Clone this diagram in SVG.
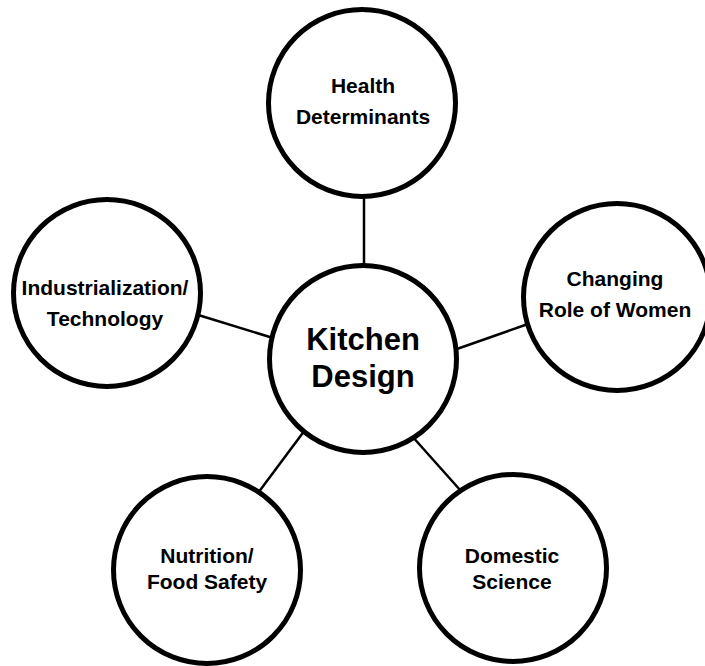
<svg xmlns="http://www.w3.org/2000/svg" width="705" height="666" viewBox="0 0 705 666">
  <style>
    .node circle { fill: #ffffff; stroke: #000000; stroke-width: 5; }
    .link { stroke: #000000; stroke-width: 2.5; fill: none; }
    text { font-family: "Liberation Sans", Arial, sans-serif; font-weight: bold; fill: #000000; text-anchor: middle; }
    .label { font-size: 21px; }
    .hub { font-size: 31px; }
  </style>
  <rect width="705" height="666" fill="#ffffff"/>

  <!-- spokes from the hub to each topic -->
  <g id="connectors">
    <line class="link" x1="364" y1="196" x2="364" y2="267"/>
    <line class="link" x1="195" y1="314" x2="273" y2="338"/>
    <line class="link" x1="454" y1="350" x2="528" y2="324"/>
    <line class="link" x1="305" y1="430" x2="258" y2="493"/>
    <line class="link" x1="411" y1="435" x2="461" y2="491"/>
  </g>

  <g id="hub" class="node">
    <circle cx="363" cy="359" r="93.5"/>
    <text class="hub" x="363" y="350">Kitchen</text>
    <text class="hub" x="363" y="387">Design</text>
  </g>

  <g id="health" class="node">
    <circle cx="362" cy="103" r="93.5"/>
    <text class="label" x="363" y="93">Health</text>
    <text class="label" x="363" y="124">Determinants</text>
  </g>

  <g id="women" class="node">
    <circle cx="617" cy="297" r="93.5"/>
    <text class="label" x="615" y="286">Changing</text>
    <text class="label" x="615" y="317">Role of Women</text>
  </g>

  <g id="industry" class="node">
    <circle cx="107" cy="293" r="93.5"/>
    <text class="label" x="105" y="295">Industrialization/</text>
    <text class="label" x="105" y="326">Technology</text>
  </g>

  <g id="nutrition" class="node">
    <circle cx="207" cy="570" r="93.5"/>
    <text class="label" x="207" y="563">Nutrition/</text>
    <text class="label" x="207" y="589">Food Safety</text>
  </g>

  <g id="science" class="node">
    <circle cx="513" cy="568" r="93.5"/>
    <text class="label" x="512" y="563">Domestic</text>
    <text class="label" x="512" y="589">Science</text>
  </g>
</svg>
